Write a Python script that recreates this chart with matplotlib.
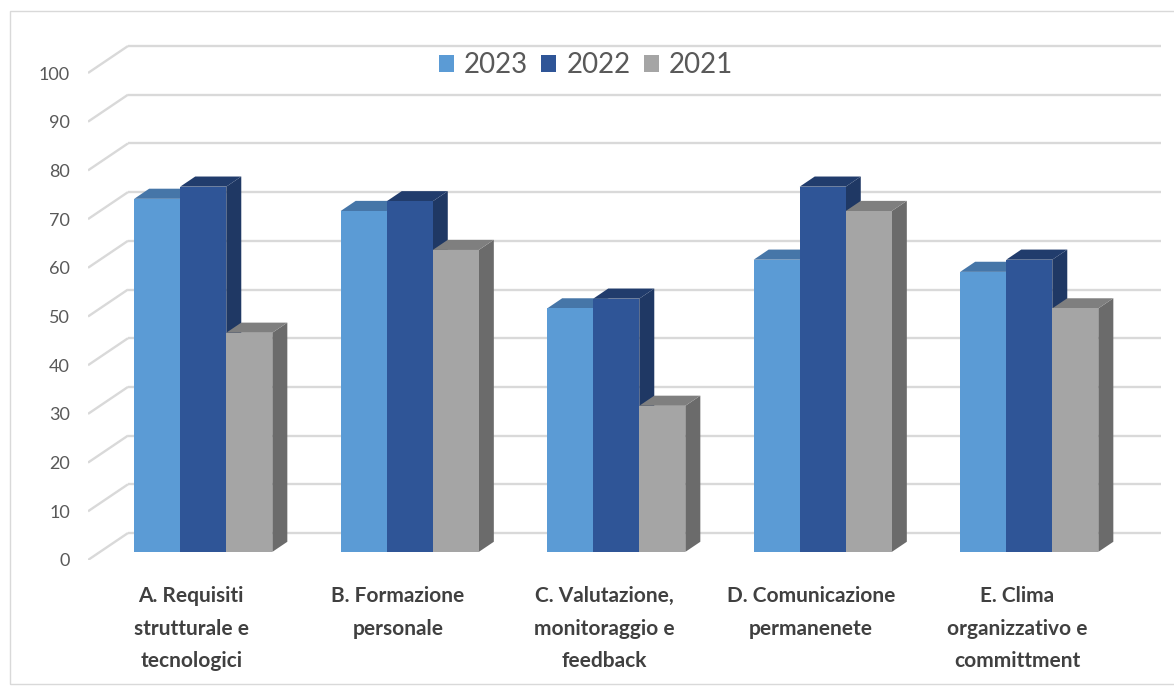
import matplotlib.pyplot as plt
from matplotlib.patches import Polygon, Patch, Rectangle

plt.rcParams['font.family'] = ['Lato', 'DejaVu Sans']

# data
categories = ['A. Requisiti\nstrutturale e\ntecnologici',
              'B. Formazione\npersonale',
              'C. Valutazione,\nmonitoraggio e\nfeedback',
              'D. Comunicazione\npermanenete',
              'E. Clima\norganizzativo e\ncommittment']
years = ['2023', '2022', '2021']
v2023 = [72.5, 70, 50, 60, 57.5]
v2022 = [75, 72, 52, 75, 60]
v2021 = [45, 62, 30, 70, 50]
yticks = list(range(0, 101, 10))

series = [v2023, v2022, v2021]
front_cols = ['#5B9BD5', '#2F5597', '#A5A5A5']
top_cols = ['#4676A8', '#213C6C', '#7F7F7F']
side_cols = ['#3E6A98', '#1F3864', '#6B6B6B']

# 3d look: full depth offset in data units
DX = 40 / 206.5
DY = 27 / 4.87
f0, f1 = 0.3, 0.3 + 0.375   # bar front / back depth fraction
bw = 0.223

fig = plt.figure(figsize=(11.74, 6.86), dpi=100)
ax = fig.add_axes([88 / 1174, 126 / 686, 5.25 * 206.5 / 1174, 108 * 4.87 / 686])
ax.set_xlim(-0.5, 4.75)
ax.set_ylim(0, 108)
for s in ax.spines.values():
    s.set_visible(False)

# outer frame
fig.patches.append(Rectangle((10 / 1174, 2 / 686), 1.2, 673 / 686, transform=fig.transFigure,
                             fill=False, edgecolor='#D9D9D9', lw=1))

# gridlines: oblique side wall + back wall
grid_c = '#D9D9D9'
for t in yticks:
    ax.plot([-0.5, -0.5 + DX], [t, t + DY], color=grid_c, lw=1.7, solid_capstyle='butt')
    ax.plot([-0.5 + DX, 4.5 + DX], [t + DY, t + DY], color=grid_c, lw=1.7, solid_capstyle='butt')

# bars
for i in range(len(categories)):
    for j, vals in enumerate(series):
        v = vals[i]
        x0 = i - 1.5 * bw + j * bw + f0 * DX
        y0 = f0 * DY
        d = (f1 - f0)
        x1 = x0 + bw
        yt = y0 + v
        side = Polygon([(x1, y0), (x1 + d * DX, y0 + d * DY), (x1 + d * DX, yt + d * DY), (x1, yt)],
                       closed=True, facecolor=side_cols[j], edgecolor='none', zorder=2)
        top = Polygon([(x0, yt), (x1, yt), (x1 + d * DX, yt + d * DY), (x0 + d * DX, yt + d * DY)],
                      closed=True, facecolor=top_cols[j], edgecolor='none', zorder=2)
        ax.add_patch(side)
        ax.add_patch(top)
        ax.bar(x0, v, bottom=y0, width=bw, align='edge', color=front_cols[j], zorder=2)

ax.set_yticks(yticks)
ax.set_yticklabels([str(t) for t in yticks], fontsize=13, color='#595959')
ax.set_xticks(range(len(categories)))
ax.set_xticklabels(categories, fontsize=15, fontweight='bold', color='#404040', linespacing=1.78)
ax.tick_params(axis='y', length=0, pad=13)
ax.tick_params(axis='x', length=0, pad=19)

handles = [Patch(facecolor=c, edgecolor='none', label=y) for c, y in zip(front_cols, years)]
leg = fig.legend(handles=handles, loc='center', bbox_to_anchor=(0.499, 0.905), ncol=3,
                 frameon=False, fontsize=20, handlelength=0.55, handleheight=0.55,
                 handletextpad=0.36, columnspacing=0.47)
for t in leg.get_texts():
    t.set_color('#595959')

fig.savefig('out.png', dpi=100)
